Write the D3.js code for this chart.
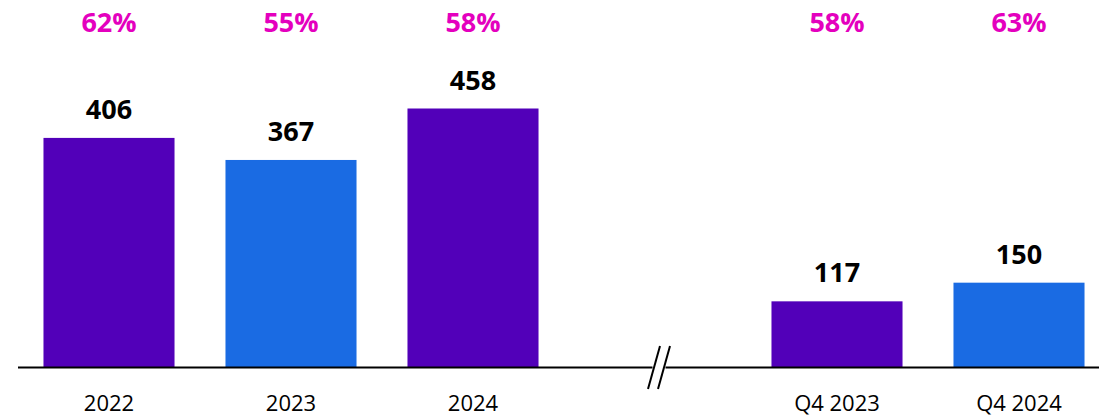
<!DOCTYPE html>
<html>
<head>
<meta charset="utf-8">
<script src="https://cdn.jsdelivr.net/npm/d3@7"></script>
<style>
  html, body { margin: 0; padding: 0; background: #fff; }
  svg { display: block; }
  text { font-family: "Open Sans", "Noto Sans", sans-serif; }
</style>
</head>
<body>
<svg id="chart" width="1099" height="417"></svg>
<script>
const categories = ["2022", "2023", "2024", "", "Q4 2023", "Q4 2024"];
const values = [406, 367, 458, null, 117, 150];
const shares = ["62%", "55%", "58%", null, "58%", "63%"];
const barColors = ["#5200B9", "#1A6BE3", "#5200B9", null, "#5200B9", "#1A6BE3"];

const data = categories.map((c, i) => ({ key: i, cat: c, v: values[i], s: shares[i], col: barColors[i] }));

const W = 1099, H = 417;
const baseY = 367.5;
const svg = d3.select("#chart");

const x = d3.scaleBand()
  .domain(data.map(d => d.key))
  .range([18, 1110])
  .paddingInner(0.28)
  .paddingOuter(0.14);

const y = d3.scaleLinear()
  .domain([0, 458])
  .range([baseY, 108.5]);

const real = data.filter(d => d.v !== null);

svg.selectAll("rect.bar").data(real).enter().append("rect")
  .attr("class", "bar")
  .attr("x", d => x(d.key))
  .attr("width", x.bandwidth())
  .attr("y", d => y(d.v))
  .attr("height", d => y(0) - y(d.v))
  .attr("fill", d => d.col);

// value labels
svg.selectAll("text.val").data(real).enter().append("text")
  .attr("class", "val")
  .attr("x", d => x(d.key) + x.bandwidth() / 2)
  .attr("y", d => y(d.v) - 19)
  .attr("text-anchor", "middle")
  .attr("font-size", 27)
  .attr("font-weight", 700)
  .attr("fill", "#000")
  .text(d => d.v);

// share labels
svg.selectAll("text.share").data(real).enter().append("text")
  .attr("class", "share")
  .attr("x", d => x(d.key) + x.bandwidth() / 2)
  .attr("y", 31.5)
  .attr("text-anchor", "middle")
  .attr("font-size", 27)
  .attr("font-weight", 700)
  .attr("fill", "#E400BE")
  .text(d => d.s);

// category labels
svg.selectAll("text.cat").data(real).enter().append("text")
  .attr("class", "cat")
  .attr("x", d => x(d.key) + x.bandwidth() / 2)
  .attr("y", 411)
  .attr("text-anchor", "middle")
  .attr("font-size", 22)
  .attr("fill", "#000")
  .text(d => d.cat);

// axis line with break
const gapKey = data.find(d => d.v === null).key;
const gc = x(gapKey) + x.bandwidth() / 2 + 4;
svg.append("line").attr("x1", 18).attr("x2", gc - 6.5).attr("y1", baseY).attr("y2", baseY)
  .attr("stroke", "#000").attr("stroke-width", 2);
svg.append("line").attr("x1", gc + 6.5).attr("x2", W).attr("y1", baseY).attr("y2", baseY)
  .attr("stroke", "#000").attr("stroke-width", 2);
[-5, 5].forEach(off => {
  svg.append("line")
    .attr("x1", gc + off - 6).attr("y1", 389)
    .attr("x2", gc + off + 6).attr("y2", 346)
    .attr("stroke", "#000").attr("stroke-width", 2);
});
</script>
</body>
</html>
